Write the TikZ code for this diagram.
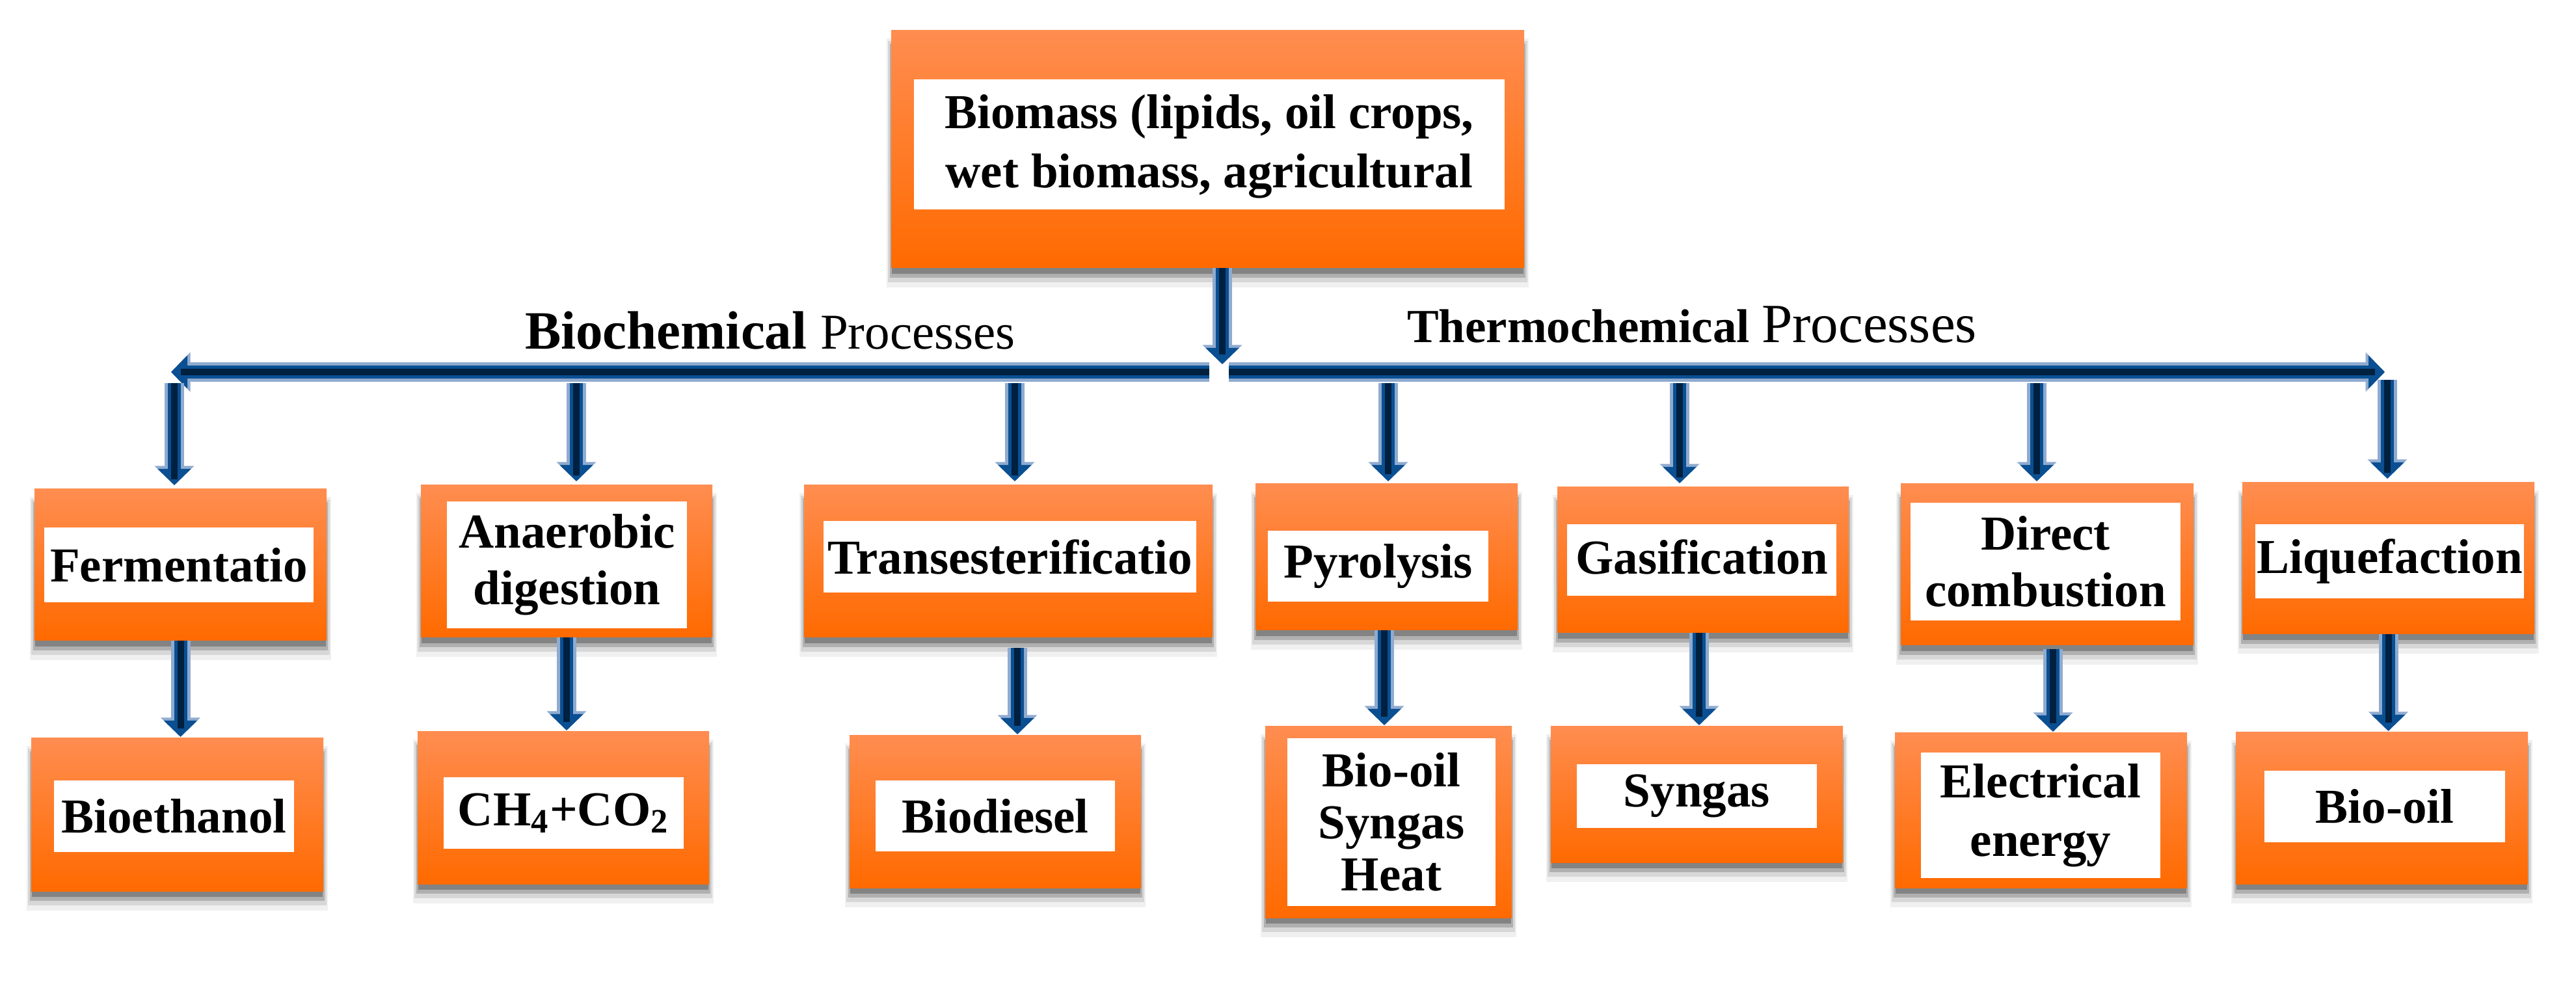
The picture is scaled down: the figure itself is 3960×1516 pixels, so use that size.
\documentclass[tikz,border=0pt]{standalone}
\usepackage{fontspec}
\setmainfont{Liberation Serif}
\usetikzlibrary{arrows.meta,fit,backgrounds}
\definecolor{orTop}{HTML}{FF8D50}
\definecolor{orBot}{HTML}{FF6A00}
\definecolor{blueLight}{HTML}{8FABD0}
\definecolor{blueMid}{HTML}{0A4F92}
\definecolor{navy}{HTML}{00203F}
\tikzset{
  obox/.style={inner sep=0pt, outer sep=0pt, top color=orTop, bottom color=orBot, draw=none},
  wbox/.style={inner sep=0pt, outer sep=0pt, fill=white},
  txt/.style={inner sep=0pt, outer sep=0pt, align=center,
               font=\fontsize{15}{17.5}\selectfont\bfseries},
  flow/.style={draw=blueMid, line width=4pt, -{Triangle[width=10pt,length=5pt]},
               preaction={draw=blueLight, line width=6pt, -{Triangle[width=11.8pt,length=5.9pt]}},
               postaction={draw=navy, line width=2pt, -, shorten >=3pt}},
  lab/.style={anchor=base west, inner sep=0pt, outer sep=0pt}
}
\begin{document}
\begin{tikzpicture}[x=0.2pt,y=-0.2pt]
\useasboundingbox (0,0) rectangle (3960,1516);

% top box
\node[obox, fit={(1370,47) (2343,412)}] (top) {};
\node[wbox, fit={(1405,122) (2313,322)}] (topw) {};
\node[txt, font=\fontsize{15}{18.2}\selectfont\bfseries] (topt) at ([yshift=-0.6pt]topw.center) {Biomass (lipids, oil crops,\\wet biomass, agricultural};

% process boxes
\node[obox, fit={(53,752) (502,985)}] (ferm) {};
\node[wbox, fit={(68,811) (482,926)}] (fermw) {};
\node[txt] (fermt) at (fermw.center) {Fermentatio};
\node[obox, fit={(647,746) (1095,980)}] (anaer) {};
\node[wbox, fit={(687,771) (1056,966)}] (anaerw) {};
\node[txt] (anaert) at (anaerw.center) {Anaerobic\\digestion};
\node[obox, fit={(1236,746) (1864,980)}] (trans) {};
\node[wbox, fit={(1266,801) (1839,911)}] (transw) {};
\node[txt] (transt) at (transw.center) {Transesterificatio};
\node[obox, fit={(1930,744) (2333,969)}] (pyro) {};
\node[wbox, fit={(1949,816) (2288,925)}] (pyrow) {};
\node[txt] (pyrot) at (pyrow.center) {Pyrolysis};
\node[obox, fit={(2394,749) (2842,973)}] (gasif) {};
\node[wbox, fit={(2409,806) (2823,916)}] (gasifw) {};
\node[txt] (gasift) at ([yshift=1pt]gasifw.center) {Gasification};
\node[obox, fit={(2922,744) (3372,992)}] (direct) {};
\node[wbox, fit={(2937,773) (3352,954)}] (directw) {};
\node[txt] (directt) at (directw.center) {Direct\\combustion};
\node[obox, fit={(3447,742) (3896,975)}] (liq) {};
\node[wbox, fit={(3467,806) (3880,920)}] (liqw) {};
\node[txt] (liqt) at (liqw.center) {Liquefaction};

% product boxes
\node[obox, fit={(48,1135) (497,1370)}] (bioeth) {};
\node[wbox, fit={(83,1200) (452,1310)}] (bioethw) {};
\node[txt] (bioetht) at (bioethw.center) {Bioethanol};
\node[obox, fit={(642,1125) (1090,1359)}] (ch4) {};
\node[wbox, fit={(682,1195) (1051,1305)}] (ch4w) {};
\node[txt] (ch4t) at (ch4w.center) {CH\textsubscript{4}+CO\textsubscript{2}};
\node[obox, fit={(1306,1131) (1754,1365)}] (biodsl) {};
\node[wbox, fit={(1346,1200) (1714,1309)}] (biodslw) {};
\node[txt] (biodslt) at (biodslw.center) {Biodiesel};
\node[obox, fit={(1945,1117) (2324,1411)}] (pyprod) {};
\node[wbox, fit={(1979,1135) (2299,1393)}] (pyprodw) {};
\node[txt, font=\fontsize{15}{16}\selectfont\bfseries] (pyprodt) at (pyprodw.center) {Bio-oil\\Syngas\\Heat};
\node[obox, fit={(2384,1117) (2833,1326)}] (syngas) {};
\node[wbox, fit={(2424,1175) (2793,1273)}] (syngasw) {};
\node[txt] (syngast) at (syngasw.center) {Syngas};
\node[obox, fit={(2913,1127) (3362,1365)}] (elec) {};
\node[wbox, fit={(2953,1157) (3321,1350)}] (elecw) {};
\node[txt, font=\fontsize{15}{18}\selectfont\bfseries] (elect) at (elecw.center) {Electrical\\energy};
\node[obox, fit={(3437,1126) (3886,1359)}] (biooil) {};
\node[wbox, fit={(3481,1185) (3851,1295)}] (biooilw) {};
\node[txt] (biooilt) at (biooilw.center) {Bio-oil};

% labels
\node[lab] (biolab) at (807,537) {\fontsize{16.6}{20}\selectfont\bfseries Biochemical \mdseries\fontsize{15.4}{20}\selectfont Processes};
\node[lab] (thermlab) at (2163,527) {\fontsize{14.6}{20}\selectfont\bfseries Thermochemical \mdseries\fontsize{17}{20}\selectfont Processes};

% background and shadows
\begin{pgfonlayer}{background}
\fill[white] (0,0) rectangle (3960,1516);
\foreach \n in {top,ferm,anaer,trans,pyro,gasif,direct,liq,bioeth,ch4,biodsl,pyprod,syngas,elec,biooil}{
  \fill[black,opacity=.06] ([xshift=-1.4pt,yshift=-6pt]\n.south west) rectangle ([xshift=1.4pt,yshift=-2.4pt]\n.north east);
  \fill[black,opacity=.10] ([xshift=-1pt,yshift=-4.4pt]\n.south west) rectangle ([xshift=1pt,yshift=-3.2pt]\n.north east);
  \fill[black,opacity=.18] ([xshift=-.4pt,yshift=-3pt]\n.south west) rectangle ([xshift=.4pt,yshift=-4pt]\n.north east);
  \fill[black,opacity=.25] ([xshift=.2pt,yshift=-1.8pt]\n.south west) rectangle ([xshift=-.2pt,yshift=-4.8pt]\n.north east);
}
\end{pgfonlayer}

% connectors
\coordinate (hub) at (1879,560);
\coordinate (bLend) at (1859,572);
\coordinate (bL) at (263,572);
\coordinate (bRstart) at (1889,572);
\coordinate (bR) at (3666,572);
\coordinate (v1) at (268,589);
\coordinate (v2) at (886,589);
\coordinate (v3) at (1560,589);
\coordinate (v4) at (2134,589);
\coordinate (v5) at (2582,589);
\coordinate (v6) at (3131,589);
\coordinate (v7) at (3670,584);

\draw[flow] (top.south -| hub) -- (hub);
\draw[flow] (bLend) -- (bL);
\draw[flow] (bRstart) -- (bR);

\draw[flow, shorten >=1.2pt] (v1) -- (v1 |- ferm.north);
\draw[flow, shorten >=1.2pt] (v2) -- (v2 |- anaer.north);
\draw[flow, shorten >=1.2pt] (v3) -- (v3 |- trans.north);
\draw[flow, shorten >=0.8pt] (v4) -- (v4 |- pyro.north);
\draw[flow, shorten >=1.2pt] (v5) -- (v5 |- gasif.north);
\draw[flow, shorten >=0.8pt] (v6) -- (v6 |- direct.north);
\draw[flow, shorten >=1.2pt] (v7) -- (v7 |- liq.north);

\draw[flow, shorten >=0.4pt] (ferm.south) -- (ferm.south |- bioeth.north);
\draw[flow, shorten >=0.4pt] (anaer.south) -- (anaer.south |- ch4.north);
\draw[flow, shorten <=3.2pt, shorten >=0.4pt] ([xshift=2.8pt]trans.south) -- ([xshift=2.8pt]trans.south |- biodsl.north);
\draw[flow, shorten >=0.4pt] ([xshift=-0.7pt]pyro.south) -- ([xshift=-0.7pt]pyro.south |- pyprod.north);
\draw[flow, shorten >=0.4pt] ([xshift=-1.2pt]gasif.south) -- ([xshift=-1.2pt]gasif.south |- syngas.north);
\draw[flow, shorten <=1.2pt, shorten >=0.4pt] ([xshift=1.8pt]direct.south) -- ([xshift=1.8pt]direct.south |- elec.north);
\draw[flow, shorten >=0.4pt] (liq.south) -- (liq.south |- biooil.north);
\end{tikzpicture}
\end{document}
